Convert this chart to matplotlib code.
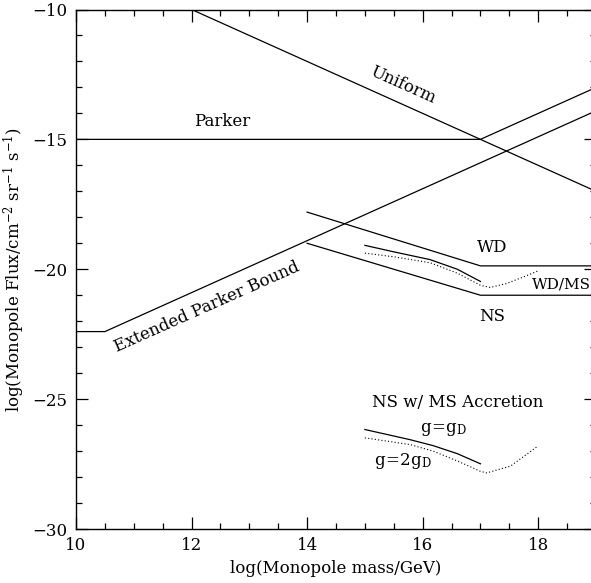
import matplotlib
matplotlib.use("Agg")
import matplotlib.pyplot as plt
from matplotlib.ticker import MultipleLocator

plt.rcParams['font.family'] = 'DejaVu Serif'
plt.rcParams['mathtext.fontset'] = 'dejavuserif'

# bounds, log(mass/GeV) vs log(flux)
uniform_x = [12, 19]
uniform_y = [-10, -17]
parker_x = [10, 17, 19]
parker_y = [-15, -15, -13]
ext_parker_x = [10, 10.5, 19]
ext_parker_y = [-22.4, -22.4, -13.9]
wd_x = [14, 17, 19]
wd_y = [-17.8, -19.87, -19.87]
ns_x = [14, 17, 19]
ns_y = [-19.0, -21.0, -21.0]

# WD/MS accretion curves
wdms_solid_x = [15.0, 15.5, 16.13, 16.6, 17.0]
wdms_solid_y = [-19.08, -19.33, -19.63, -20.0, -20.47]
wdms_dot_x = [15.0, 15.5, 16.13, 16.6, 17.0, 17.17, 17.45, 17.74, 18.0]
wdms_dot_y = [-19.38, -19.52, -19.75, -20.15, -20.62, -20.7, -20.55, -20.3, -20.06]

# NS w/ MS accretion
nsms_solid_x = [15.0, 15.78, 16.18, 16.6, 17.0]
nsms_solid_y = [-26.17, -26.56, -26.79, -27.1, -27.49]
nsms_dot_x = [15.0, 15.78, 16.18, 16.6, 17.0, 17.11, 17.52, 17.95, 18.0]
nsms_dot_y = [-26.49, -26.75, -27.0, -27.38, -27.78, -27.84, -27.58, -26.88, -26.8]

fig = plt.figure(figsize=(5.91, 5.83), dpi=100)
ax = fig.add_axes([76/591, 54/583, 520/591, 519.5/583])

lw = 0.9
dots = (0, (1, 2))
ax.plot(uniform_x, uniform_y, color='black', lw=lw)
ax.plot(parker_x, parker_y, color='black', lw=lw)
ax.plot(ext_parker_x, ext_parker_y, color='black', lw=lw)
ax.plot(wd_x, wd_y, color='black', lw=lw)
ax.plot(ns_x, ns_y, color='black', lw=lw)
ax.plot(wdms_solid_x, wdms_solid_y, color='black', lw=lw)
ax.plot(wdms_dot_x, wdms_dot_y, color='black', lw=0.8, ls=dots)
ax.plot(nsms_solid_x, nsms_solid_y, color='black', lw=lw)
ax.plot(nsms_dot_x, nsms_dot_y, color='black', lw=0.8, ls=dots)

fs = 12
ax.text(15.65, -12.9, 'Uniform', rotation=-24, ha='center', va='center', fontsize=fs)
ax.text(12.53, -14.33, 'Parker', ha='center', va='center', fontsize=fs)
ax.text(12.27, -21.44, 'Extended Parker Bound', rotation=24, ha='center', va='center', fontsize=fs)
ax.text(17.2, -19.17, 'WD', ha='center', va='center', fontsize=fs)
ax.text(18.92, -20.6, 'WD/MS', ha='right', va='center', fontsize=11)
ax.text(17.2, -21.83, 'NS', ha='center', va='center', fontsize=fs)
ax.text(16.6, -25.13, 'NS w/ MS Accretion', ha='center', va='center', fontsize=fs)
ax.text(16.36, -26.17, r'$\mathrm{g\!=\!g_D}$', ha='center', va='center', fontsize=fs)
ax.text(15.66, -27.4, r'$\mathrm{g\!=\!2g_D}$', ha='center', va='center', fontsize=fs)

ax.set_xlim(10, 19)
ax.set_ylim(-30, -10)
ax.xaxis.set_major_locator(MultipleLocator(2))
ax.xaxis.set_minor_locator(MultipleLocator(0.5))
ax.yaxis.set_major_locator(MultipleLocator(5))
ax.yaxis.set_minor_locator(MultipleLocator(1))
ax.tick_params(which='both', direction='in', top=True, right=True, labelsize=12, width=0.9)
ax.tick_params(which='major', length=8.6, pad=6)
ax.tick_params(which='minor', length=4.3)
for s in ax.spines.values():
    s.set_linewidth(1.0)

ax.set_xlabel('log(Monopole mass/GeV)', fontsize=12, labelpad=4)
ax.set_ylabel(r'log(Monopole Flux/cm$^{-2}$ sr$^{-1}$ s$^{-1}$)', fontsize=12, labelpad=4)

fig.savefig('out.png', dpi=100)
